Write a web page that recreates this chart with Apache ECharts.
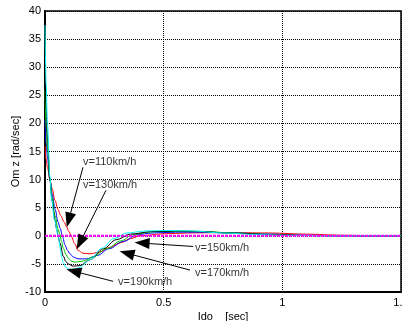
<!DOCTYPE html>
<html>
<head>
<meta charset="utf-8">
<script src="https://cdn.jsdelivr.net/npm/echarts@6/dist/echarts.min.js"></script>
<style>
  html, body { margin: 0; padding: 0; background: #fff; }
  #chart { width: 402px; height: 321px; }
</style>
</head>
<body>
<div id="chart"></div>
<script>
// Yaw-rate response Om z over time for several vehicle speeds
const xTicks = [0, 0.5, 1, 1.5];
const yTicks = [-10, 0, 10, 20, 30, 40];

const v110 = [[0,16.0],[0.005,13.6],[0.01,12.2],[0.021,10.0],[0.03,8.4],[0.042,6.3],[0.055,4.7],[0.066,3.6],[0.08,2.5],[0.091,1.6],[0.1,0.8],[0.112,-0.2],[0.125,-1.4],[0.14,-2.6],[0.16,-3.1],[0.19,-3.2],[0.23,-2.9],[0.27,-2.1],[0.32,-1.2],[0.36,-0.5],[0.4,0.0],[0.5,0.35],[0.6,0.5],[0.7,0.55],[0.8,0.55],[0.95,0.5],[1.1,0.3],[1.25,0.1],[1.4,0.0],[1.5,0.0]];
const v130 = [[0,20.6],[0.005,16.5],[0.01,14.0],[0.021,9.9],[0.03,7.5],[0.042,4.8],[0.055,2.5],[0.063,1.4],[0.075,-0.3],[0.084,-1.6],[0.095,-2.6],[0.105,-3.2],[0.12,-3.8],[0.14,-4.1],[0.175,-4.1],[0.22,-3.5],[0.27,-2.3],[0.33,-1.0],[0.39,0.2],[0.45,0.5],[0.55,0.65],[0.65,0.65],[0.8,0.5],[0.95,0.3],[1.1,0.1],[1.25,0.0],[1.5,0.0]];
const v150 = [[0,25.9],[0.005,19.5],[0.01,15.5],[0.021,9.9],[0.03,6.8],[0.042,3.6],[0.055,1.2],[0.063,0.2],[0.07,-1.0],[0.077,-2.2],[0.088,-3.3],[0.098,-4.0],[0.11,-4.5],[0.126,-4.7],[0.16,-4.5],[0.2,-3.8],[0.26,-2.3],[0.32,-0.9],[0.37,0.2],[0.45,0.7],[0.55,0.85],[0.65,0.8],[0.8,0.5],[0.95,0.25],[1.1,0.05],[1.25,0.0],[1.5,0.0]];
const v170 = [[0,31.0],[0.005,23.0],[0.01,17.5],[0.021,9.9],[0.03,6.2],[0.042,2.8],[0.05,1.0],[0.056,-0.2],[0.063,-1.3],[0.077,-3.6],[0.088,-4.6],[0.098,-5.0],[0.119,-5.4],[0.147,-5.3],[0.19,-4.25],[0.246,-2.3],[0.3,-0.7],[0.36,0.3],[0.45,0.75],[0.55,0.85],[0.65,0.75],[0.8,0.45],[0.95,0.2],[1.1,0.05],[1.25,0.0],[1.5,0.0]];
const v190 = [[0,37.5],[0.005,27.0],[0.01,20.0],[0.021,10.5],[0.028,6.4],[0.04,2.8],[0.056,0.0],[0.063,-2.0],[0.07,-3.7],[0.077,-4.8],[0.088,-5.6],[0.1,-5.9],[0.12,-6.0],[0.135,-5.8],[0.147,-5.6],[0.19,-4.25],[0.24,-2.2],[0.29,-0.5],[0.345,0.5],[0.42,0.85],[0.52,0.95],[0.62,0.85],[0.75,0.5],[0.9,0.2],[1.05,0.05],[1.2,0.0],[1.5,0.0]];
const zeroRef = [[0,0],[1.5,0]];

// Speed labels: text anchor, leader start, arrowhead point (data coordinates)
const labelNames = ['v=110km/h', 'v=130km/h', 'v=150km/h', 'v=170km/h', 'v=190km/h'];
const labelAt    = [[0.160, 13.1], [0.160, 9.0], [0.632, -2.2], [0.632, -6.6], [0.308, -8.2]];
const leaderFrom = [[0.160, 12.2], [0.257, 8.1], [0.624, -1.9], [0.611, -6.1], [0.287, -8.1]];
const leaderTo   = [[0.100, 2.8], [0.1475, -1.2], [0.409, -1.3], [0.345, -3.1], [0.121, -6.3]];

const FONT = 'Liberation Sans, Arial, sans-serif';

function curve(name, data, color) {
  return {
    name: name, type: 'line', data: data,
    showSymbol: false, smooth: 0.35, smoothMonotone: 'x',
    lineStyle: { color: color, width: 1 },
    itemStyle: { color: color },
    z: 3
  };
}

const chart = echarts.init(document.getElementById('chart'), null, { renderer: 'canvas' });
chart.setOption({
  animation: false,
  backgroundColor: '#ffffff',
  grid: {
    left: 45, right: 1, top: 11, bottom: 29,
    containLabel: false, outerBoundsMode: 'none',
    show: true, borderColor: '#000', borderWidth: 1.5, backgroundColor: 'transparent'
  },
  xAxis: {
    type: 'value', min: xTicks[0], max: xTicks[xTicks.length - 1], interval: 0.5,
    name: 'Ido    [sec]', nameLocation: 'middle', nameGap: 19, nameMoveOverlap: false,
    nameTextStyle: { color: '#000', fontFamily: FONT, fontSize: 11 },
    axisLine: { show: true, onZero: false, lineStyle: { color: '#000', width: 2 } },
    axisTick: { show: false },
    axisLabel: { color: '#000', fontFamily: FONT, fontSize: 11, margin: 5 },
    splitLine: { show: true, lineStyle: { color: '#000', type: [1, 1], width: 1 } }
  },
  yAxis: {
    type: 'value', min: yTicks[0], max: yTicks[yTicks.length - 1], interval: 5,
    name: 'Om z [rad/sec]', nameLocation: 'middle', nameGap: 24, nameRotate: 90, nameMoveOverlap: false,
    nameTextStyle: { color: '#000', fontFamily: FONT, fontSize: 11 },
    axisLine: { show: true, onZero: false, lineStyle: { color: '#000', width: 2 } },
    axisTick: { show: false },
    axisLabel: { color: '#000', fontFamily: FONT, fontSize: 11, margin: 4 },
    splitLine: { show: true, lineStyle: { color: '#000', type: [1, 1], width: 1 } }
  },
  series: [
    curve('v=110km/h', v110, '#ff0000'),
    curve('v=130km/h', v130, '#0000ff'),
    curve('v=150km/h', v150, '#00c800'),
    curve('v=170km/h', v170, '#000000'),
    curve('v=190km/h', v190, '#00ffff'),
    {
      name: 'zero', type: 'line', data: zeroRef, showSymbol: false,
      lineStyle: { color: '#ff00ff', width: 2, type: [3, 1] }, z: 4
    },
    {
      name: 'labels', type: 'scatter', symbolSize: 0, z: 6,
      data: labelAt.map((p, i) => ({ value: p, name: labelNames[i] })),
      label: {
        show: true, position: 'right', distance: 0,
        formatter: '{b}', color: '#000', fontFamily: FONT, fontSize: 11
      },
      markLine: {
        silent: true, animation: false,
        symbol: ['none', 'triangle'], symbolSize: [11, 15],
        lineStyle: { color: '#000', width: 1, type: 'solid' },
        itemStyle: { color: '#000' },
        label: { show: false },
        data: leaderFrom.map((p, i) => [{ coord: p }, { coord: leaderTo[i] }])
      }
    }
  ]
});
</script>
</body>
</html>
